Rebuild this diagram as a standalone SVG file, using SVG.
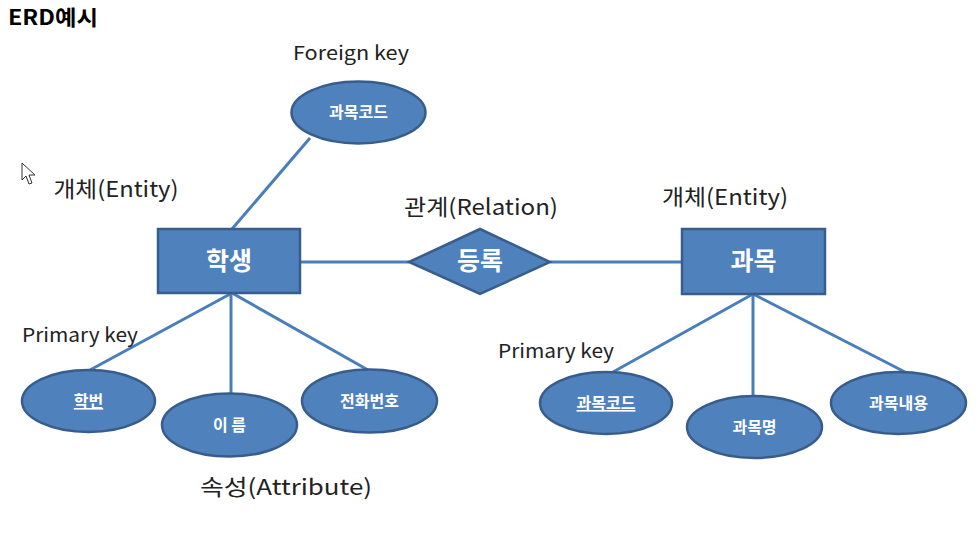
<svg xmlns="http://www.w3.org/2000/svg" width="979" height="544" viewBox="0 0 979 544">
<style>
.ent{fill:#4F81BD;stroke:#385D8A;stroke-width:2.5}
.att{fill:#4F81BD;stroke:#385D8A;stroke-width:2.5}
.ln{stroke:#4A7EBB;stroke-width:3;fill:none}
.lbl{font-family:"Noto Sans CJK KR","Noto Sans",sans-serif;fill:#222;}
.in{font-family:"Noto Sans CJK KR","Noto Sans",sans-serif;fill:#fff;font-weight:bold;text-anchor:middle}
.big{font-size:25px}
.sm{font-size:16px}
.cap{font-size:22px}
.key{font-size:19px}
</style>
<rect width="979" height="544" fill="#fff"/>
<text x="8" y="25" font-family="'Noto Sans CJK KR','Noto Sans',sans-serif" font-weight="bold" font-size="21" fill="#000" textLength="90" lengthAdjust="spacingAndGlyphs">ERD예시</text>
<polygon points="22,163 22,180 26,176 29,184 32,183 29,175 35,175" fill="#fff" stroke="#333" stroke-width="1"/>
<g id="connectors">
<line class="ln" x1="310" y1="138" x2="232" y2="229"/>
<line class="ln" x1="300" y1="262" x2="409" y2="262"/>
<line class="ln" x1="550" y1="262" x2="682" y2="262"/>
<line class="ln" x1="232" y1="293" x2="90" y2="370"/>
<line class="ln" x1="231" y1="293" x2="231" y2="393"/>
<line class="ln" x1="232" y1="293" x2="368" y2="370"/>
<line class="ln" x1="753" y1="294" x2="613" y2="372"/>
<line class="ln" x1="753" y1="294" x2="753" y2="396"/>
<line class="ln" x1="753" y1="294" x2="905" y2="372"/>
</g>
<g id="labels">
<text class="lbl key" x="351" y="60" text-anchor="middle" textLength="116" lengthAdjust="spacingAndGlyphs">Foreign key</text>
<text class="lbl cap" x="116" y="197" text-anchor="middle" textLength="125" lengthAdjust="spacingAndGlyphs">개체(Entity)</text>
<text class="lbl cap" x="481" y="215" text-anchor="middle" textLength="154" lengthAdjust="spacingAndGlyphs">관계(Relation)</text>
<text class="lbl cap" x="725" y="205" text-anchor="middle" textLength="126" lengthAdjust="spacingAndGlyphs">개체(Entity)</text>
<text class="lbl key" x="80" y="342" text-anchor="middle" textLength="116" lengthAdjust="spacingAndGlyphs">Primary key</text>
<text class="lbl key" x="556" y="358" text-anchor="middle" textLength="116" lengthAdjust="spacingAndGlyphs">Primary key</text>
<text class="lbl cap" x="286" y="495" text-anchor="middle" textLength="172" lengthAdjust="spacingAndGlyphs">속성(Attribute)</text>
</g>
<g id="fk-code">
<ellipse class="att" cx="358.5" cy="112.5" rx="67" ry="31"/>
<text class="in sm" x="358.5" y="118">과목코드</text>
</g>
<g id="student">
<rect class="ent" x="158" y="229" width="142" height="64"/>
<text class="in big" x="229" y="270">학생</text>
</g>
<g id="enroll">
<polygon class="ent" points="409,262 480,229 550,262 480,294"/>
<text class="in big" x="480" y="270">등록</text>
</g>
<g id="course">
<rect class="ent" x="682" y="229" width="143" height="65"/>
<text class="in big" x="753.5" y="270">과목</text>
</g>
<g id="student-id">
<ellipse class="att" cx="88.5" cy="401" rx="66.5" ry="31"/>
<text class="in sm" x="88.5" y="407" text-decoration="underline">학번</text>
</g>
<g id="student-name">
<ellipse class="att" cx="229.5" cy="425" rx="67.5" ry="31.5"/>
<text class="in sm" x="229.5" y="431">이 름</text>
</g>
<g id="student-phone">
<ellipse class="att" cx="369.5" cy="401" rx="67.5" ry="31.5"/>
<text class="in sm" x="369.5" y="407">전화번호</text>
</g>
<g id="course-code">
<ellipse class="att" cx="606" cy="403" rx="66" ry="31"/>
<text class="in sm" x="606" y="409" text-decoration="underline">과목코드</text>
</g>
<g id="course-name">
<ellipse class="att" cx="754.5" cy="427" rx="67.5" ry="31"/>
<text class="in sm" x="754.5" y="433">과목명</text>
</g>
<g id="course-desc">
<ellipse class="att" cx="898.5" cy="403" rx="67.5" ry="31"/>
<text class="in sm" x="898.5" y="409">과목내용</text>
</g>
</svg>
